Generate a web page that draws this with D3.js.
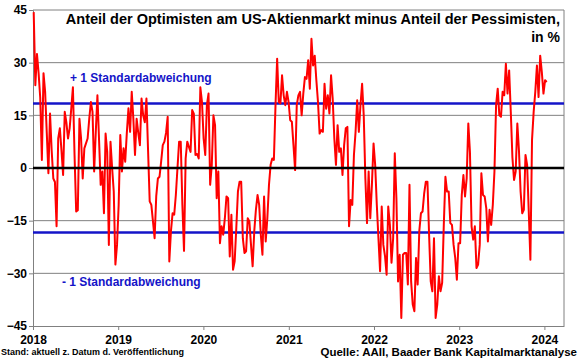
<!DOCTYPE html>
<html><head><meta charset="utf-8">
<script src="https://cdn.jsdelivr.net/npm/d3@7"></script>
<style>
html,body{margin:0;padding:0;background:#fff;}
svg{display:block;font-family:"Liberation Sans",Arial,sans-serif;}
</style></head>
<body>
<svg id="c" width="580" height="359"></svg>
<script>
// ---- data ----
const startDate = "2018-01-04"; // weekly observations
const spread = [
44.4,23.6,32.5,27,20,2.3,27,21.7,10,-1.5,15.5,5,-3,-4,-16.6,8.4,11.3,5,-2,16,13,8.4,11.3,17,23,3.7,-12.4,-12,14,8.4,-3,5.6,7,8.4,14,18.8,16,-1,10.3,20.7,8,-4.8,-1,-12.9,9.8,4.6,-21.9,7.5,0,-6.7,-27.5,-21.9,
-10.5,9.4,-1,5.6,1.8,10,17,10.3,21.7,14,3.7,14,10,6.5,19.8,15,13,19.8,5,-9.5,-10.5,-15.2,-20,-8,-3,-2.5,1.8,6.5,7.5,10,14.6,-26.6,-18,-12.9,-13.3,-7.7,0,7.5,7.5,-10.5,-23.6,2.7,7.5,6,4.6,16.5,15.5,3.7,4,2.7,23,18.8,8.4,3.7,17.9,21.2,
-4.8,0.9,15,12.2,-8.6,-1,-21.4,-16.6,-19,-14.3,-8.1,-8.6,-25.2,-13.3,-29,-26.6,-17.1,-6.7,-3.9,-3.9,-20,-24.2,-23.7,-14.3,-15.2,-21.9,-28,-18,-11.9,-7.7,-10.5,-19,-24.7,-8.1,-20.9,-14.3,-4.8,0.9,2.7,2.3,17.9,31.1,18.8,18.4,26.4,20.7,17.9,21.7,18.8,13.6,
13.2,6.5,-0.6,17.9,20.7,21.7,15,21.2,25.9,25.4,30.7,22.6,36.8,29.2,32,25,18.8,9.8,10.8,10.3,24,16.9,20.7,15.5,26.4,19.8,8.4,0.9,12.2,4.6,5.6,-2,6.5,11.3,11.7,-16.6,-9.1,-10.5,3.7,10.3,19.3,10.3,17.9,24,15,-3,-15.7,-1,-14.3,-4.8,7,0.9,
-10.5,-20,-29.4,-11,-21.9,-25,-30.4,-11,-16.2,-27,-20,4.2,-8.6,-32.3,-24.7,-42.7,-24.7,-24.2,-24.2,-33.2,-4.8,-32.3,-38.9,-40.8,-25.6,-33.2,-18,-12.9,-12.4,-7.2,-3.9,-3.9,-19,-32.3,-35.1,-20,-42.7,-38.9,-30.8,-35.1,-32.7,-16.2,-2.5,-6.7,-6.7,-15.7,-16.2,-21.9,-25.6,-31.8,-21.4,-21.4,
-7.7,-2,-8.1,-3,12.7,4.6,-16.6,-20.4,-16.6,-28.5,-27.5,-21.9,-1.5,-7.7,-8.1,-11.4,-20.9,-11.9,-16.2,-10.5,-1,17.9,22.6,15,14.6,21.7,20.7,29.7,21.2,27.8,16,3,-3.4,-1,12.7,5,-6.7,-12.9,-11.9,3.7,0.9,-12.4,-26.1,8,16,21.7,29.2,20.2,32,27.3,21.2,25,24.5
];
const stdDev = 18.4;
const yTicks = [-45,-30,-15,0,15,30,45];
const xTickYears = [2018,2019,2020,2021,2022,2023,2024];
const title1 = "Anteil der Optimisten am US-Aktienmarkt minus Anteil der Pessimisten,";
const title2 = "in %";
const upperLabel = "+ 1 Standardabweichung";
const lowerLabel = "- 1 Standardabweichung";
const noteLeft = "Stand: aktuell z. Datum d. Veröffentlichung";
const noteRight = "Quelle: AAII, Baader Bank Kapitalmarktanalyse";

// ---- build ----
const parse = d3.timeParse("%Y-%m-%d");
const t0 = parse(startDate);
const series = spread.map((v,i)=>({date:d3.timeDay.offset(t0, i*7), v}));

const svg = d3.select("#c");
const L=33, R=564, T=10, B=326;
const x = d3.scaleTime().domain([new Date(2018,0,1), new Date(2024,2,25)]).range([L,R]);
const y = d3.scaleLinear().domain([-45,45]).range([B,T]);

// grid
svg.append("g").selectAll("line").data(yTicks.filter(d=>d!==0 && d!==-45))
  .join("line").attr("x1",L).attr("x2",R).attr("y1",d=>y(d)).attr("y2",d=>y(d))
  .attr("stroke","#808080").attr("stroke-width",1);
// frame right
svg.append("line").attr("x1",R).attr("x2",R).attr("y1",T).attr("y2",B).attr("stroke","#808080");

// axes
const yAxis = d3.axisLeft(y).tickValues(yTicks).tickSize(4).tickFormat(d3.format("d"));
const gy = svg.append("g").attr("transform",`translate(${L},0)`).call(yAxis);
gy.select(".domain").attr("stroke","#808080");
gy.selectAll(".tick line").attr("stroke","#808080");
gy.selectAll("text").attr("font-size",12).attr("font-weight","bold").attr("fill","#000").attr("x",-6);

const xAxis = d3.axisBottom(x).tickValues(xTickYears.map(yr=>new Date(yr,0,1))).tickSize(4).tickSizeOuter(0).tickFormat(d3.timeFormat("%Y"));
const gx = svg.append("g").attr("transform",`translate(0,${B})`).call(xAxis);
gx.select(".domain").attr("stroke","#808080");
gx.selectAll(".tick line").attr("stroke","#808080");
gx.selectAll("text").attr("font-size",12).attr("font-weight","bold").attr("fill","#000").attr("dy","0.95em");

// std lines
svg.append("g").selectAll("line").data([stdDev,-stdDev]).join("line")
  .attr("x1",L).attr("x2",R).attr("y1",d=>y(d)).attr("y2",d=>y(d))
  .attr("stroke","#1414c8").attr("stroke-width",2.5);

// series line
svg.append("path").datum(series)
  .attr("d", d3.line().x(d=>x(d.date)).y(d=>y(d.v)))
  .attr("fill","none").attr("stroke","#ff0000").attr("stroke-width",2).attr("stroke-linejoin","round");

// zero line
svg.append("line").attr("x1",L).attr("x2",R).attr("y1",y(0)).attr("y2",y(0))
  .attr("stroke","#000").attr("stroke-width",2.5);

// title
svg.append("text").attr("x",560).attr("y",24).attr("text-anchor","end")
  .attr("font-size",14.5).attr("font-weight","bold").text(title1);
svg.append("text").attr("x",560).attr("y",42).attr("text-anchor","end")
  .attr("font-size",14).attr("font-weight","bold").text(title2);

// std labels
svg.append("text").attr("x",70).attr("y",82).attr("font-size",12).attr("font-weight","bold")
  .attr("fill","#1414c8").text(upperLabel);
svg.append("text").attr("x",62).attr("y",286).attr("font-size",12).attr("font-weight","bold")
  .attr("fill","#1414c8").text(lowerLabel);

// notes
svg.append("text").attr("x",1).attr("y",355).attr("font-size",9).attr("font-weight","bold").text(noteLeft);
svg.append("text").attr("x",577).attr("y",356).attr("text-anchor","end").attr("font-size",11.5).attr("font-weight","bold").text(noteRight);
</script>
</body></html>
